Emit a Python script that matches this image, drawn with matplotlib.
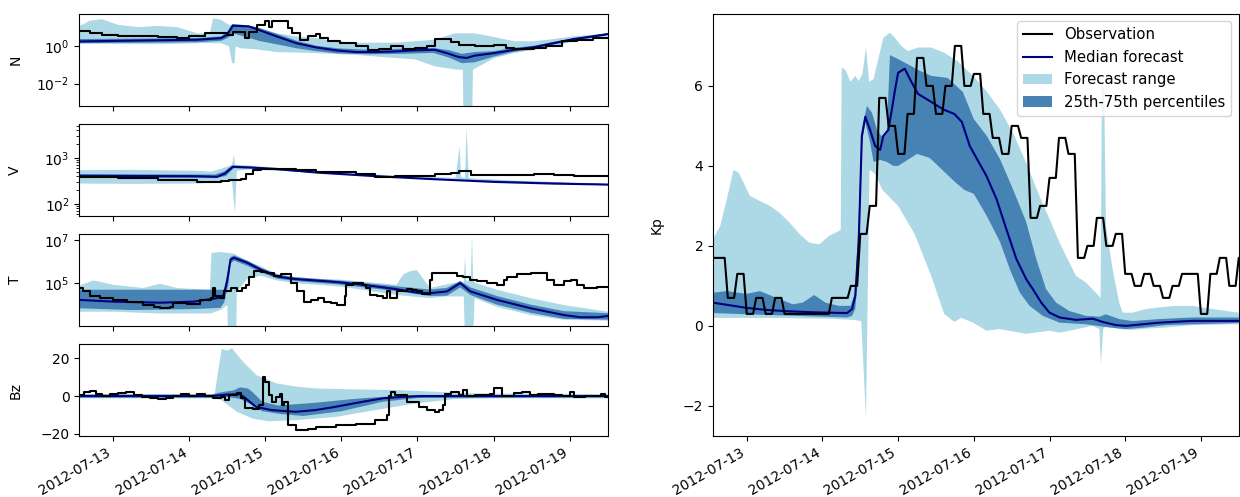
import numpy as np
import matplotlib.pyplot as plt
import matplotlib.dates as mdates

plt.rcParams['font.size'] = 10

T0 = np.datetime64('2012-07-12T00:00')   # times below are hours after this

# ---------------- Kp (right panel) ----------------
kp_obs_start = 12          # first 3-hour block, hours
kp_obs = [1.7, 1.7, 0.7, 1.3, 0.3, 0.7, 0.3, 0.7, 0.3, 0.3, 0.3, 0.3, 0.3, 0.7, 0.7,
          1.0, 2.3, 3.0, 5.7, 5.0, 4.3, 5.3, 6.7, 6.0, 5.3, 6.0, 7.0, 6.0, 6.3, 5.3,
          4.7, 4.3, 5.0, 4.7, 2.7, 3.0, 3.7, 4.7, 4.3, 1.7, 2.0, 2.7, 2.0, 2.3, 1.3,
          1.0, 1.3, 1.0, 0.7, 1.0, 1.3, 1.3, 0.3, 1.3, 1.7, 1.0, 1.7]

kp_med = [(13.3, 0.58), (24, 0.45), (30, 0.4), (36, 0.37), (45, 0.34), (55.8, 0.32),
          (57.4, 0.42), (58.4, 0.75), (59.5, 2.1), (60.5, 4.75), (61.6, 5.23), (63.1, 4.9),
          (64.7, 4.5), (66.3, 4.4), (67.3, 4.75), (68.9, 4.9), (70, 5.4), (71, 5.9),
          (72, 6.33), (74.1, 6.43), (76.2, 6.1), (78.3, 5.8), (80.4, 5.7), (82.5, 5.6),
          (84.5, 5.5), (86.6, 5.4), (89.8, 5.3), (92.2, 5.1), (94.7, 4.5), (96.8, 4.2),
          (100, 3.75), (103.2, 3.17), (106.3, 2.42), (109.5, 1.67), (112.6, 1.17),
          (114.7, 0.92), (117.4, 0.58), (120, 0.33), (123.2, 0.21), (128.4, 0.15),
          (133.7, 0.18), (136.8, 0.1), (141, 0.02), (144.2, 0.0), (149.5, 0.04),
          (154.7, 0.08), (165.3, 0.125), (180, 0.125)]
kp_q75 = [(13.3, 0.83), (17.7, 0.87), (24, 0.8), (28.2, 0.87), (33.4, 0.7), (38.6, 0.54),
          (41.7, 0.58), (45.4, 0.77), (49, 0.58), (53.2, 0.5), (56.9, 0.5), (58.4, 0.83),
          (59.5, 2.75), (60.5, 4.9), (62.1, 5.5), (63.7, 5.33), (65.3, 4.9), (66.6, 4.75),
          (68.4, 4.8), (69.4, 6.77), (72, 6.67), (75.1, 6.54), (78.3, 6.4), (82.5, 6.25),
          (87.7, 6.2), (92.5, 5.85), (96, 5.17), (100.1, 4.75), (104.3, 4.17), (108.5, 3.4),
          (112.6, 2.6), (115.8, 1.67), (118.9, 0.92), (122.1, 0.58), (126.3, 0.37),
          (131.6, 0.25), (135.8, 0.23), (137.9, 0.29), (142.1, 0.17), (146.3, 0.12),
          (154.7, 0.17), (165.3, 0.21), (180, 0.21)]
kp_q25 = [(13.3, 0.32), (24, 0.29), (40, 0.25), (55.8, 0.21), (57.4, 0.25), (58.4, 0.42),
          (59.5, 1.42), (60.5, 4.58), (61.6, 5.08), (63.1, 4.6), (64.2, 4.1), (66.3, 4.15),
          (68.4, 4.1), (70.5, 4.0), (72, 4.0), (74, 4.1), (78, 4.3), (82, 4.2), (86, 3.9),
          (90, 3.6), (93, 3.4), (96, 3.3), (100.1, 2.75), (104.3, 2.1), (107.5, 1.4),
          (110.6, 0.83), (113.7, 0.5), (117.9, 0.25), (123.2, 0.08), (131.6, 0.04),
          (138.9, -0.04), (144.2, -0.08), (150.5, -0.04), (157, 0.02), (165.3, 0.04),
          (180, 0.07)]
kp_max = [(13.3, 2.17), (15.6, 2.5), (17.7, 3.17), (19.8, 3.9), (21.4, 3.83), (23, 3.58),
          (25, 3.25), (28.2, 3.12), (31.3, 3.0), (34.4, 2.83), (37.6, 2.58), (40.7, 2.3),
          (43.8, 2.08), (47, 2.04), (50.1, 2.25), (53.2, 2.37), (53.8, 2.4), (54.1, 6.46),
          (55.3, 6.4), (56.9, 6.1), (58.4, 6.25), (59.5, 6.12), (60.7, 6.3), (61.8, 6.96),
          (62.8, 6.1), (64.2, 6.17), (65.7, 6.67), (67.3, 7.2), (69.4, 7.33), (71, 7.2),
          (73, 7.0), (75.1, 6.87), (78.3, 6.96), (82.5, 6.96), (86.6, 6.83), (90.8, 6.62),
          (95.8, 6.25), (100, 5.87), (104.2, 5.42), (108.4, 4.83), (112.6, 4.08),
          (116.8, 3.25), (120, 2.67), (123.2, 2.08), (126.3, 1.58), (128.4, 1.25),
          (131.6, 1.08), (134.7, 0.83), (136.2, 0.7), (136.6, 5.96), (137.3, 5.96),
          (137.9, 2.5), (140, 1.42), (142.1, 0.58), (143.2, 0.33), (146.3, 0.33),
          (150.5, 0.42), (154.7, 0.46), (160, 0.5), (165.3, 0.5), (171.6, 0.42), (180, 0.33)]
kp_min = [(13.3, 0.2), (30, 0.2), (50, 0.18), (58, 0.15), (60.3, 0.12), (61.8, -2.3),
          (62.4, 1.0), (62.9, 3.9), (64.7, 3.8), (67, 3.4), (72, 3.0), (77.2, 2.3),
          (82.5, 1.25), (86.6, 0.3), (89.8, 0.1), (92, 0.2), (95.8, 0.08), (100, -0.12),
          (104.2, -0.08), (112.6, -0.2), (120, -0.12), (123.2, -0.17), (133.7, 0.0),
          (135.8, -0.08), (136.3, -0.96), (137.0, -0.08), (137.9, 0.0), (142.1, -0.08),
          (146.3, -0.1), (150.5, -0.07), (157, -0.04), (165.3, 0.02), (180, 0.04)]

# ---------------- N ----------------
n_obs = [(13, 6.9), (16.75, 5.1), (20.5, 3.9), (25.5, 3.5), (31.75, 3.7), (38, 3.2),
         (44, 2.8), (48, 3.5), (53, 5.1), (58, 5.1), (60, 3.9), (61.75, 5.9), (64.25, 6.3),
         (65.5, 2.8), (66.75, 6.3), (69.25, 14.5), (71.75, 22), (73, 11.7), (74.25, 22),
         (76.75, 24.5), (78.6, 24.5), (79.25, 9.5), (80.5, 5.1), (83, 2.3), (85.5, 3.5),
         (88, 4.6), (89.25, 2.8), (91.75, 1.9), (95.5, 1.5), (100.5, 1.0), (104.25, 0.62),
         (108, 0.72), (111.75, 1.0), (115.5, 0.72), (119.25, 0.78), (123, 1.0), (125.5, 2.5),
         (128, 2.5), (130.5, 1.7), (133, 1.2), (138, 1.1), (144.25, 1.2), (148, 0.81),
         (150.5, 0.74), (156.75, 0.81), (160.5, 1.0), (165.5, 1.9), (170.5, 2.3),
         (175.5, 2.8), (181, 2.8)]
n_med = [(13, 1.86), (25.5, 2.0), (50.5, 2.3), (58, 2.8), (59.9, 4.2), (61.75, 13),
         (66.75, 12), (69.25, 8.5), (75.5, 3.5), (81.75, 1.5), (88, 0.89), (94.25, 0.62),
         (100.5, 0.5), (106.75, 0.5), (113, 0.54), (119.25, 0.62), (125.5, 0.66),
         (129.25, 0.44), (133, 0.27), (135.5, 0.24), (138, 0.32), (144.25, 0.44),
         (150.5, 0.66), (156.75, 0.91), (163, 1.5), (169.25, 2.5), (175.5, 3.5), (180, 4.6)]
n_q75 = [(13, 2.5), (50, 2.8), (58, 3.5), (60, 6.3), (61.5, 16), (66, 14), (70, 10),
         (76, 4.5), (82, 2.0), (88, 1.1), (95, 0.79), (105, 0.66), (115, 0.76), (125, 0.83),
         (130, 0.63), (134, 0.4), (138, 0.5), (144, 0.56), (150, 0.83), (157, 1.1),
         (163, 1.8), (170, 2.8), (180, 5.2)]
n_q25 = [(13, 1.5), (50, 1.66), (58, 2.0), (60, 2.8), (62, 5.0), (66, 3.2), (70, 2.0),
         (76, 1.26), (82, 0.79), (88, 0.56), (95, 0.42), (105, 0.38), (115, 0.4), (125, 0.45),
         (130, 0.25), (134, 0.126), (138, 0.14), (144, 0.28), (150, 0.5), (157, 0.76),
         (163, 1.26), (170, 2.1), (180, 4.0)]
n_max = [(13, 11.7), (16.75, 24.5), (20.5, 29), (25.5, 14.5), (31.75, 11), (38, 12.6),
         (44, 11), (50.5, 5.1), (54.5, 5.1), (55.5, 33), (58, 27), (60.5, 14.5),
         (64.25, 11.7), (66.75, 12.6), (69.25, 11), (75.5, 5.1), (81.75, 3.5), (88, 2.8),
         (94.25, 1.9), (100.5, 1.6), (113, 1.6), (119.25, 1.9), (125.5, 2.3), (131.75, 5.1),
         (138, 5.1), (144.25, 3.2), (150.5, 1.9), (156.75, 1.9), (163, 2.5), (169.25, 3.5),
         (175.5, 4.3), (180, 5.1)]
n_min = [(13, 1.38), (38, 1.32), (50.5, 1.5), (58, 1.5), (60.5, 1.0), (61.5, 0.126),
         (62.3, 0.126), (62.6, 1.0), (64.25, 0.8), (69.25, 0.7), (75.5, 0.5), (88, 0.44),
         (100.5, 0.35), (113, 0.24), (119.25, 0.2), (125.5, 0.085), (132.5, 0.056),
         (134.3, 0.056), (134.6, 1e-5), (137.2, 1e-5), (137.5, 0.056), (144.25, 0.24),
         (150.5, 0.44), (156.75, 0.66), (163, 1.0), (169.25, 1.9), (180, 3.5)]

# ---------------- V ----------------
v_obs = [(13, 384), (25.5, 365), (38, 324), (50.5, 298), (58, 308), (60.5, 324),
         (64.25, 352), (66, 454), (68, 537), (70.5, 583), (75.5, 570), (81.75, 537),
         (88, 493), (100.5, 454), (106.75, 384), (113, 403), (119.25, 403), (123, 397),
         (125.5, 454), (130.5, 477), (133, 510), (135.5, 510), (136.75, 432), (144.25, 418),
         (150.5, 432), (156.75, 454), (163, 418), (169.25, 403), (175.5, 397), (181, 365)]
v_med = [(13, 404), (50.5, 397), (56.75, 384), (59.25, 454), (61.75, 635), (66.75, 614),
         (75.5, 570), (88, 477), (106.75, 397), (125.5, 341), (144.25, 298), (163, 274),
         (180, 261)]
v_q75 = [(13, 440), (56, 430), (59, 500), (61.5, 680), (67, 650), (88, 490), (125, 350),
         (180, 268)]
v_q25 = [(13, 370), (56, 360), (59.5, 400), (62, 590), (67, 585), (88, 465), (125, 333),
         (180, 254)]
v_max = [(13, 537), (30, 545), (50, 520), (55, 500), (57.5, 560), (60, 640), (61.5, 700),
         (62.1, 1180), (62.4, 700), (67, 680), (88, 510), (110, 420), (132, 365),
         (133.3, 1740), (133.8, 380), (135, 370), (135.5, 4400), (136.2, 360), (150, 320),
         (180, 272)]
v_min = [(13, 275), (30, 270), (50, 275), (56, 290), (59, 340), (61.5, 300), (62.4, 63),
         (63, 520), (67, 560), (88, 470), (110, 390), (135, 340), (135.5, 330),
         (136.8, 300), (140, 325), (160, 280), (180, 250)]

# ---------------- T ----------------
t_obs = [(13.2, 5.9e4), (14.5, 4.1e4), (16.6, 2.4e4), (19.8, 2.0e4), (24, 1.66e4),
         (28.2, 1.38e4), (33.5, 9.5e3), (36.7, 8.1e3), (38.8, 6.8e3), (42, 7.6e3),
         (43, 1.15e4), (47.3, 1.07e4), (51.5, 1.66e4), (54.7, 2.0e4), (55.5, 5.9e4),
         (56.2, 2.5e4), (57.8, 2.0e4), (58.9, 4.1e4), (61, 5.9e4), (63.1, 4.1e4),
         (64.7, 5.9e4), (65.8, 8.3e4), (66.8, 2.0e5), (68.4, 3.5e5), (70.5, 3.2e5),
         (72.6, 3.0e5), (74.7, 2.2e5), (76.9, 2.5e5), (79, 2.5e5), (80, 1.0e5),
         (82.1, 4.1e4), (84.3, 1.38e4), (86.4, 1.66e4), (88.5, 2.0e4), (90.6, 1.38e4),
         (92.7, 1.15e4), (94.6, 9.5e3), (96.5, 9.5e3), (97.2, 2.4e4), (97.6, 8.3e4),
         (99.7, 1.0e5), (102.9, 8.3e4), (103.9, 5.9e4), (105, 2.8e4), (107.1, 2.4e4),
         (109.2, 2.0e4), (110.3, 4.1e4), (111.3, 2.0e4), (113.4, 4.1e4), (116.6, 5.2e4),
         (118.2, 4.9e4), (119.8, 4.1e4), (121.4, 3.2e4), (124, 1.45e5), (124.5, 3.0e5),
         (129.3, 3.0e5), (132.4, 2.2e5), (134.5, 2.0e5), (136.7, 1.45e5), (138.8, 1.2e5),
         (141.9, 1.0e5), (145.1, 8.3e4), (147.2, 1.45e5), (148.3, 2.0e5), (151.4, 2.5e5),
         (155.7, 2.8e5), (159.9, 2.8e5), (160.9, 1.45e5), (163.1, 8.3e4), (166.2, 1.2e5),
         (168.3, 1.45e5), (170.4, 8.3e4), (172.6, 5.9e4), (176.8, 6.9e4), (181, 8.3e4)]
t_med = [(13.2, 1.66e4), (24, 1.38e4), (38.8, 1.23e4), (49.4, 1.38e4), (56.8, 2.0e4),
         (58.9, 2.8e4), (60, 1.45e5), (61, 1.23e6), (62.1, 1.48e6), (66.3, 8.7e5),
         (70.5, 4.2e5), (75.8, 2.0e5), (81.1, 1.55e5), (91.6, 1.2e5), (95.7, 1.07e5),
         (102.9, 8.3e4), (113.4, 5.2e4), (119.8, 3.6e4), (124, 3.4e4), (129.3, 4.1e4),
         (133.5, 1.0e5), (136.7, 4.1e4), (145.1, 1.66e4), (155.7, 6.8e3), (166.2, 3.3e3),
         (171.5, 2.6e3), (176.8, 2.6e3), (180.2, 3.0e3)]
t_q75 = [(13.2, 4.9e4), (57.8, 4.9e4), (59, 5.0e4), (60, 2.5e5), (61, 1.6e6), (62.1, 1.9e6),
         (66.3, 1.1e6), (70.5, 5.2e5), (75.8, 2.5e5), (81.1, 1.9e5), (95.7, 1.3e5),
         (113.4, 7.1e4), (124, 5.0e4), (129.3, 6.0e4), (133.5, 1.26e5), (136.7, 6.3e4),
         (145.1, 2.5e4), (155.7, 1.0e4), (166.2, 5.0e3), (180.2, 4.0e3)]
t_q25 = [(13.2, 6.8e3), (30, 5.6e3), (50, 6.3e3), (57.8, 7.1e3), (59, 1.26e4),
         (60.3, 7.9e4), (61, 7.9e5), (62.1, 1.1e6), (66.3, 6.3e5), (70.5, 3.2e5),
         (75.8, 1.6e5), (81.1, 1.26e5), (95.7, 8.5e4), (113.4, 4.2e4), (124, 2.5e4),
         (129.3, 2.6e4), (133.5, 6.3e4), (136.7, 2.8e4), (145.1, 1.0e4), (155.7, 4.2e3),
         (166.2, 2.2e3), (180.2, 2.0e3)]
t_max = [(13.2, 7.5e4), (17.7, 1.33e5), (24, 8.3e4), (33.5, 5.9e4), (38.8, 9.3e4),
         (44, 5.9e4), (54.5, 4.9e4), (55, 2.5e6), (57.8, 2.75e6), (62.1, 2.3e6),
         (66.3, 1.05e6), (70.5, 6.0e5), (75.8, 2.5e5), (81.1, 1.7e5), (95.7, 1.45e5),
         (113.4, 8.3e4), (115.5, 2.5e5), (117.5, 3.5e5), (119.8, 4.0e5), (122, 1.45e5),
         (124, 5.9e4), (131.2, 1.0e5), (134.6, 1.0e5), (135.0, 1.8e6), (135.4, 1.26e5),
         (136.8, 1.26e5), (137.2, 1.5e7), (137.6, 1.26e5), (138.4, 1.0e5), (145.1, 4.9e4),
         (155.7, 2.0e4), (166.2, 9.5e3), (180.2, 4.7e3)]
t_min = [(13.2, 4.7e3), (24, 4.7e3), (38.8, 3.9e3), (54.7, 3.9e3), (57.8, 5.6e3),
         (60, 9.5e3), (60.2, 300), (62.8, 300), (63, 4.0e4), (66.3, 1.6e5), (70.5, 2.2e5),
         (75.8, 1.3e5), (81.1, 1.0e5), (95.7, 6.9e4), (113.4, 2.8e4), (124, 2.0e4),
         (129.3, 2.4e4), (134.6, 2.4e4), (135, 300), (137.6, 300), (138, 2.0e4),
         (145.1, 7.9e3), (155.7, 3.3e3), (166.2, 2.0e3), (180.2, 1.8e3)]

# ---------------- Bz ----------------
bz_obs = [(13, 0.5), (14.9, 1.9), (16.75, 2.7), (18.6, 0.9), (20.5, 0), (23, 0.9),
          (25.5, 1.4), (28, 1.9), (30.5, 0.5), (33, -0.4), (35.5, -1.2), (38, -1.8),
          (40.5, -0.9), (43, 0.2), (45.5, 0.9), (48, 0), (50.5, 0.9), (53, 0.2), (55.5, -0.9),
          (58, -0.4), (59.25, -2.1), (60.5, 0.5), (63, 1.4), (64.25, -0.9), (65.5, -6.5),
          (68, -6.9), (69.9, -4.8), (71.1, 10.3), (71.75, 7.6), (73, 0.5), (74.25, -3.0),
          (75.5, -0.4), (76.75, 0.9), (77.4, -4.8), (78, -3.0), (79.25, -15.4), (81.75, -18.0),
          (85.5, -17.5), (88, -16.3), (94.25, -15.4), (100.5, -14.5), (106.75, -12.7),
          (110.5, -10.0), (111.1, 0.0), (111.75, 2.3), (113, 0.5), (116.75, -3.0),
          (120.5, -5.7), (123, -7.4), (125.5, -8.3), (126.75, -7.4), (128, -4.8), (128.6, 0.9),
          (130.5, 2.3), (133, 0.5), (134.25, 3.2), (135.5, 0), (138, 0.5), (143, 0.9),
          (144.25, 4.4), (146.1, 4.1), (146.75, 0), (150.5, 1.4), (153, 1.9), (155.5, 0.5),
          (158, 0.9), (163, 0.5), (165.5, 0), (168, 2.3), (169.25, -0.4), (173, 0.2),
          (175.5, 0), (178, 1.2), (179.25, -0.4), (181, 0.5)]
bz_med = [(13, 0), (55, 0), (60, 0.8), (64, 1.0), (66, -1.5), (69, -5.7), (74, -7.4),
          (81.5, -8.3), (87.75, -7.4), (94, -5.7), (102.75, -3.0), (109, -1.2),
          (115.25, -0.4), (121.5, 0), (180, 0)]
bz_q75 = [(13, 0.8), (55, 0.8), (58, 2.0), (62, 3.0), (64, 4.6), (66.5, 4.0), (68, 2.0),
          (71, -3.0), (76, -5.0), (88, -3.5), (100, -1.5), (110, -0.3), (120, 0.6), (180, 0.6)]
bz_q25 = [(13, -0.8), (55, -0.8), (60, -0.5), (64, -1.5), (67, -4), (71, -8), (77, -9.5),
          (84, -10.5), (96, -8), (109, -3), (120, -1), (180, -0.7)]
bz_max = [(13, 0.9), (54.5, 0.9), (56.0, 1.0), (58.2, 25.0), (60, 24), (61.5, 25.3),
          (63, 22), (65, 18), (69.25, 11), (75.5, 6.7), (81.75, 5.0), (88, 4.0),
          (100.5, 3.5), (113, 3.2), (125.5, 2.3), (138, 1.4), (180, 1.0)]
bz_min = [(13, -1.2), (56, -1.2), (58, -2.0), (63, -8.3), (68, -11.9), (73, -13.3),
          (81.75, -12.7), (94.25, -11.0), (106.75, -7.4), (119.25, -3.9), (131.75, -1.6),
          (144.25, -1.2), (180, -1.2)]


def at(hours):
    minutes = np.round(np.asarray(hours, dtype=float) * 60).astype(np.int64)
    return T0 + minutes.astype('timedelta64[m]')


def split(pairs):
    a = np.array(pairs, dtype=float)
    return at(a[:, 0]), a[:, 1]


def band(ax, lo, hi, color, label=None):
    tl, yl = split(lo)
    th, yh = split(hi)
    x = np.concatenate([th, tl[::-1]])
    y = np.concatenate([yh, yl[::-1]])
    return ax.fill(x, y, color=color, lw=0, label=label)[0]


fig = plt.figure(figsize=(12.4, 4.97), dpi=100)
gs = fig.add_gridspec(4, 1, left=0.064, right=0.49, top=0.972, bottom=0.123, hspace=0.2)
ax0 = fig.add_subplot(gs[0])
axes = [ax0] + [fig.add_subplot(gs[i], sharex=ax0) for i in range(1, 4)]
ax_kp = fig.add_axes([0.575, 0.123, 0.424, 0.849])

panels = [
    ('N', n_obs, n_med, n_q25, n_q75, n_min, n_max, 'log', (6.6e-4, 56)),
    ('V', v_obs, v_med, v_q25, v_q75, v_min, v_max, 'log', (55, 5400)),
    ('T', t_obs, t_med, t_q25, t_q75, t_min, t_max, 'log', (10**3.02, 10**7.27)),
    ('Bz', bz_obs, bz_med, bz_q25, bz_q75, bz_min, bz_max, 'linear', (-21, 27.4)),
]

xlim = (at(13.3), at(180))
for ax, (name, obs, med, q25, q75, lo, hi, scale, ylim) in zip(axes, panels):
    ax.set_yscale(scale)
    band(ax, lo, hi, 'lightblue')
    band(ax, q25, q75, 'steelblue')
    ax.plot(*split(med), color='navy')
    ax.plot(*split(obs), color='black', drawstyle='steps-post')
    ax.set_ylim(*ylim)
    ax.set_ylabel(name)
    ax.yaxis.set_label_coords(-0.108, 0.5)
    ax.set_xlim(*xlim)

for ax in axes[:-1]:
    ax.tick_params(labelbottom=False)

# Kp panel
h_rng = band(ax_kp, kp_min, kp_max, 'lightblue', 'Forecast range')
h_pct = band(ax_kp, kp_q25, kp_q75, 'steelblue', '25th-75th percentiles')
h_med, = ax_kp.plot(*split(kp_med), color='navy', label='Median forecast')
kp_hours = kp_obs_start + np.arange(3 * len(kp_obs))
h_obs, = ax_kp.plot(at(kp_hours), np.repeat(kp_obs, 3), color='black', label='Observation')
ax_kp.set_xlim(*xlim)
ax_kp.set_ylim(-2.75, 7.8)
ax_kp.set_ylabel('Kp')
ax_kp.yaxis.set_label_coords(-0.093, 0.5)
ax_kp.legend(handles=[h_obs, h_med, h_rng, h_pct], loc='upper right', fontsize=10.7)

for ax in [axes[-1], ax_kp]:
    ax.xaxis.set_major_locator(mdates.DayLocator())
    ax.xaxis.set_major_formatter(mdates.DateFormatter('%Y-%m-%d'))
    for lab in ax.get_xticklabels():
        lab.set_rotation(30)
        lab.set_ha('right')

fig.savefig('out.png', dpi=100)
